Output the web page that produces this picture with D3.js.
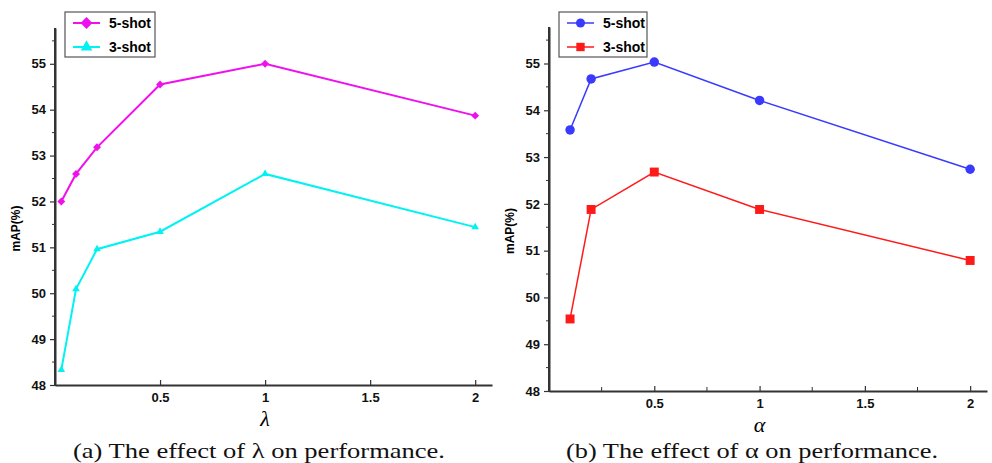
<!DOCTYPE html>
<html>
<head>
<meta charset="utf-8">
<script src="https://cdn.jsdelivr.net/npm/d3@7"></script>
<style>
  body { margin: 0; background: #fff; }
  svg { display: block; }
</style>
</head>
<body>
<svg id="chart" width="992" height="463"></svg>
<script>
// left panel: effect of lambda
const lambdaX = [0.03, 0.1, 0.2, 0.5, 1, 2];
const lambda5shot = [52.0, 52.6, 53.18, 54.55, 55.0, 53.87];
const lambda3shot = [48.33, 50.09, 50.96, 51.34, 52.6, 51.44];

// right panel: effect of alpha
const alphaX = [0.1, 0.2, 0.5, 1, 2];
const alpha5shot = [53.58, 54.67, 55.03, 54.21, 52.74];
const alpha3shot = [49.54, 51.88, 52.68, 51.88, 50.79];

const xTicks = [0.5, 1, 1.5, 2];
const yTicks = [48, 49, 50, 51, 52, 53, 54, 55];

const svg = d3.select("#chart");

function panel(cfg) {
  const g = svg.append("g");
  const x = d3.scaleLinear().domain([0, 2.08]).range([cfg.left, cfg.right]);
  const y = d3.scaleLinear().domain([48, 55.78]).range([cfg.bottom, cfg.top]);

  // axes
  const yAxis = g.append("g")
    .attr("transform", `translate(${cfg.left},0)`)
    .call(d3.axisLeft(y).tickValues(yTicks).tickFormat(d3.format("d")).tickSize(5).tickSizeOuter(0).tickPadding(4));
  // minor y ticks
  g.append("g").selectAll("line")
    .data(d3.range(48.5, 55.6, 1))
    .join("line")
    .attr("x1", cfg.left - 3).attr("x2", cfg.left)
    .attr("y1", (d) => y(d)).attr("y2", (d) => y(d))
    .attr("stroke", "#333").attr("stroke-width", 1);

  const xAxis = g.append("g")
    .attr("transform", `translate(0,${cfg.bottom})`)
    .call(d3.axisBottom(x).tickValues(xTicks).tickFormat((d) => d).tickSize(-5).tickSizeOuter(0).tickPadding(8));
  if (cfg.minorX) {
    g.append("g").selectAll("line")
      .data([0.25, 0.75, 1.25, 1.75])
      .join("line")
      .attr("x1", (d) => x(d)).attr("x2", (d) => x(d))
      .attr("y1", cfg.bottom).attr("y2", cfg.bottom - 4)
      .attr("stroke", "#333").attr("stroke-width", 1);
  }

  [xAxis, yAxis].forEach((a) => {
    a.select(".domain").attr("stroke", "#333").attr("stroke-width", 2);
    a.selectAll(".tick line").attr("stroke", "#333").attr("stroke-width", 1.2);
    a.selectAll("text")
      .attr("font-family", "Liberation Sans, Arial, sans-serif")
      .attr("font-weight", "bold")
      .attr("font-size", 13)
      .attr("fill", "#111");
  });
  // extend y axis line to top
  g.append("line")
    .attr("x1", cfg.left).attr("x2", cfg.left)
    .attr("y1", cfg.top).attr("y2", cfg.bottom + 1)
    .attr("stroke", "#333").attr("stroke-width", 2);

  // y label
  g.append("text")
    .attr("transform", `translate(${cfg.left - 35},${(cfg.top + cfg.bottom) / 2 + 22}) rotate(-90)`)
    .attr("text-anchor", "middle")
    .attr("font-family", "Liberation Sans, Arial, sans-serif")
    .attr("font-weight", "bold")
    .attr("font-size", 12)
    .text("mAP(%)");

  // x title
  g.append("text")
    .attr("x", x(1)).attr("y", cfg.bottom + 41)
    .attr("text-anchor", "middle")
    .attr("font-family", "Liberation Serif, serif")
    .attr("font-style", "italic")
    .attr("font-size", 22)
    .text(cfg.symbol);

  // caption
  g.append("text")
    .attr("x", cfg.captionX).attr("y", 458)
    .attr("text-anchor", "middle")
    .attr("font-family", "Liberation Serif, serif")
    .attr("font-size", 22)
    .attr("fill", "#111")
    .attr("textLength", 372)
    .attr("lengthAdjust", "spacingAndGlyphs")
    .text(cfg.caption);

  const line = d3.line().x((d) => x(d[0])).y((d) => y(d[1]));

  cfg.series.forEach((s) => {
    const pts = cfg.xs.map((v, i) => [v, s.values[i]]);
    g.append("path")
      .datum(pts)
      .attr("fill", "none")
      .attr("stroke", s.color)
      .attr("stroke-width", s.width)
      .attr("d", line);
    g.append("g").selectAll("path")
      .data(pts)
      .join("path")
      .attr("transform", (d) => `translate(${x(d[0])},${y(d[1])})`)
      .attr("d", d3.symbol().type(s.symbol).size(s.size))
      .attr("fill", s.color);
  });

  // legend
  const lg = g.append("g").attr("transform", `translate(${cfg.legendX},12)`);
  lg.append("rect")
    .attr("width", cfg.legendW).attr("height", 45)
    .attr("fill", "#fff").attr("stroke", "#555").attr("stroke-width", 1.2);
  cfg.series.forEach((s, i) => {
    const ly = 11 + i * 24;
    lg.append("line")
      .attr("x1", 8).attr("x2", 35).attr("y1", ly).attr("y2", ly)
      .attr("stroke", s.color).attr("stroke-width", s.width);
    lg.append("path")
      .attr("transform", `translate(21.5,${ly})`)
      .attr("d", d3.symbol().type(s.symbol).size(s.legendSize))
      .attr("fill", s.color);
    lg.append("text")
      .attr("x", 44).attr("y", ly + 5)
      .attr("font-family", "Liberation Sans, Arial, sans-serif")
      .attr("font-weight", "bold")
      .attr("font-size", 14)
      .text(s.name);
  });
}

panel({
  left: 55, right: 492, top: 28, bottom: 385,
  xs: lambdaX, symbol: "λ", minorX: false,
  caption: "(a)  The effect of λ on performance.", captionX: 259,
  legendX: 65, legendW: 90,
  series: [
    { name: "5-shot", values: lambda5shot, color: "#ee11ee", width: 2, symbol: d3.symbolDiamond2, size: 40, legendSize: 90 },
    { name: "3-shot", values: lambda3shot, color: "#00f2f2", width: 2, symbol: d3.symbolTriangle, size: 25, legendSize: 60 },
  ],
});

panel({
  left: 549, right: 987, top: 27, bottom: 391,
  xs: alphaX, symbol: "α", minorX: true,
  caption: "(b)  The effect of α on performance.", captionX: 752,
  legendX: 559, legendW: 88,
  series: [
    { name: "5-shot", values: alpha5shot, color: "#3a3aff", width: 1.5, symbol: d3.symbolCircle, size: 70, legendSize: 65 },
    { name: "3-shot", values: alpha3shot, color: "#ff1a1a", width: 1.5, symbol: d3.symbolSquare, size: 80, legendSize: 70 },
  ],
});
</script>
</body>
</html>
